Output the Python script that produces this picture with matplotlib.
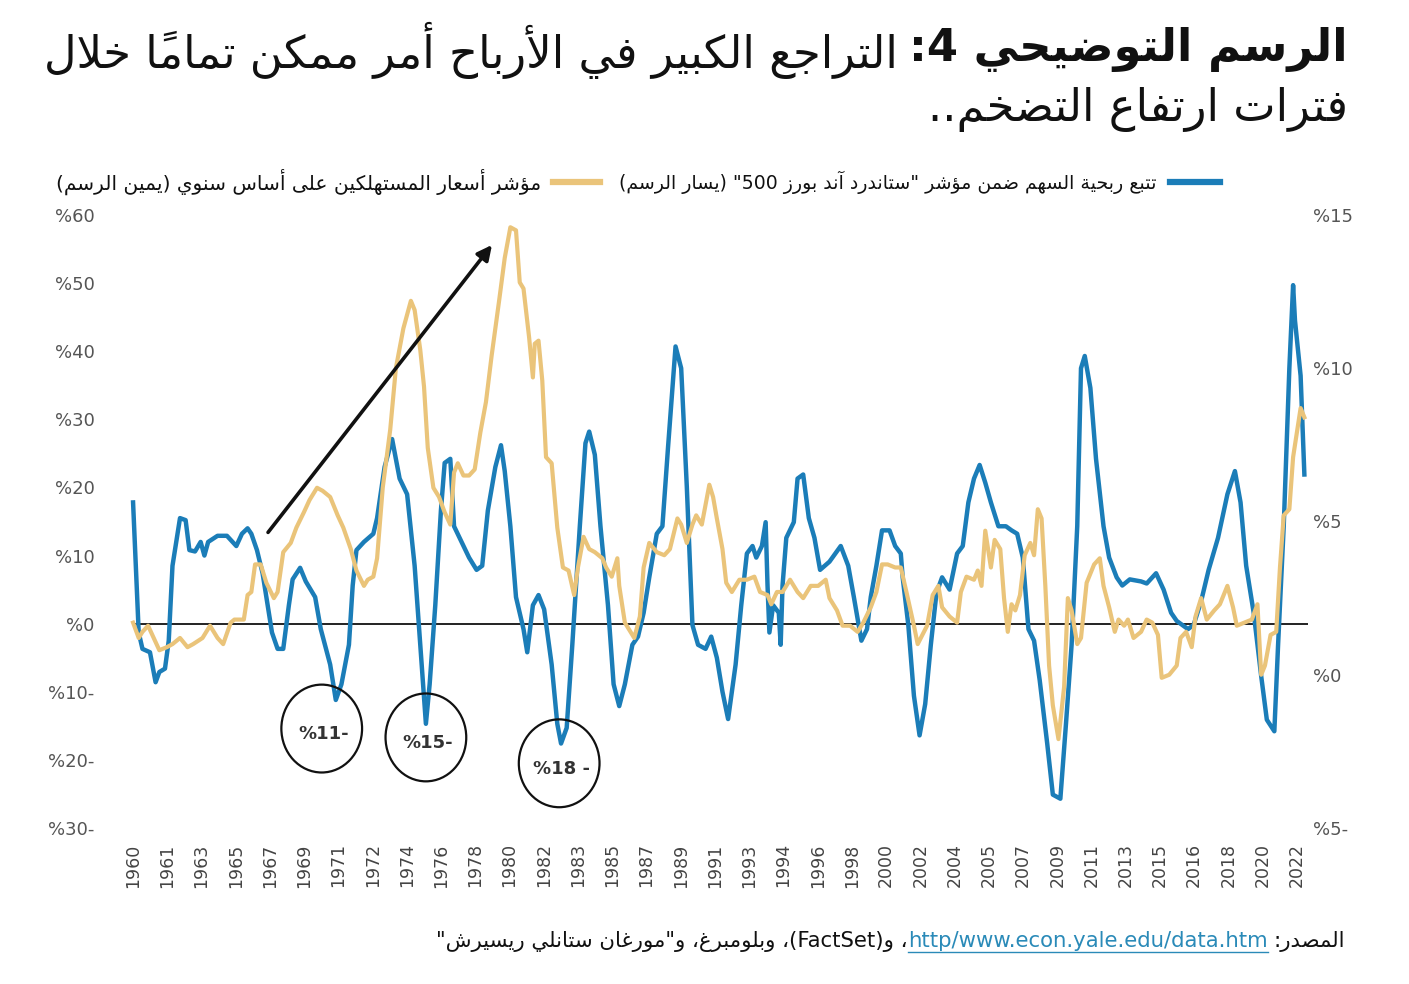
import re
import matplotlib
matplotlib.use("Agg")
import matplotlib.pyplot as plt
from matplotlib.patches import Ellipse
from matplotlib.lines import Line2D

# -----------------------------
# DATA
# -----------------------------
eps_years = [
    1960.0, 1960.3, 1960.5, 1960.9, 1961.2, 1961.4, 1961.7, 1961.9, 1962.1, 1962.5,
    1962.8, 1963.0, 1963.3, 1963.6, 1963.8, 1964.0, 1964.5, 1965.0, 1965.5, 1965.8,
    1966.1, 1966.3, 1966.6, 1966.9, 1967.1, 1967.4, 1967.7, 1968.0, 1968.3, 1968.5,
    1968.9, 1969.2, 1969.7, 1970.0, 1970.5, 1970.8, 1971.1, 1971.5, 1971.7, 1971.9,
    1972.3, 1972.8, 1973.0, 1973.4, 1973.8, 1974.2, 1974.6, 1975.0, 1975.3, 1975.6,
    1975.8, 1976.1, 1976.4, 1976.6, 1976.9, 1977.1, 1977.5, 1977.9, 1978.3, 1978.6,
    1978.9, 1979.3, 1979.6, 1979.8, 1980.1, 1980.4, 1980.8, 1981.0, 1981.3, 1981.6,
    1981.9, 1982.3, 1982.6, 1982.8, 1983.1, 1983.4, 1983.8, 1984.1, 1984.3, 1984.6,
    1984.9, 1985.3, 1985.6, 1985.9, 1986.2, 1986.6, 1986.9, 1987.2, 1987.5, 1987.9,
    1988.2, 1988.5, 1988.9, 1989.2, 1989.5, 1989.8, 1990.1, 1990.5, 1990.8, 1991.1,
    1991.4, 1991.7, 1992.1, 1992.4, 1992.7, 1993.0, 1993.2, 1993.5, 1993.7, 1993.8,
    1993.9, 1994.1, 1994.4, 1994.5, 1994.6, 1994.8, 1995.2, 1995.4, 1995.7, 1996.0,
    1996.3, 1996.6, 1997.1, 1997.7, 1998.1, 1998.4, 1998.8, 1999.1, 1999.3, 1999.6,
    1999.9, 2000.3, 2000.6, 2000.9, 2001.0, 2001.3, 2001.6, 2001.9, 2002.2, 2002.5,
    2002.8, 2003.1, 2003.5, 2003.9, 2004.2, 2004.5, 2004.8, 2005.1, 2005.4, 2005.7,
    2006.1, 2006.5, 2006.8, 2007.1, 2007.4, 2007.7, 2008.0, 2008.3, 2008.7, 2009.0,
    2009.4, 2009.7, 2010.0, 2010.3, 2010.5, 2010.7, 2011.0, 2011.3, 2011.7, 2012.0,
    2012.4, 2012.7, 2013.1, 2013.7, 2014.0, 2014.5, 2014.9, 2015.3, 2015.6, 2016.2,
    2016.5, 2016.9, 2017.3, 2017.8, 2018.3, 2018.7, 2019.0, 2019.3, 2019.7, 2020.1,
    2020.4, 2020.8, 2021.0, 2021.3, 2021.6, 2021.8, 2021.9, 2022.2, 2022.4,
]
eps_growth = [
    17.8, -1.3, -3.7, -4.2, -8.6, -7.1, -6.6, -2.5, 8.5, 15.5,
    15.2, 10.8, 10.6, 12.0, 10.0, 12.0, 12.9, 12.9, 11.4, 13.2,
    14.0, 13.2, 10.8, 7.4, 3.9, -1.3, -3.7, -3.7, 2.7, 6.5,
    8.2, 6.2, 3.9, -0.8, -6.0, -11.2, -8.9, -3.1, 5.6, 10.8,
    12.0, 13.2, 15.5, 23.0, 27.1, 21.3, 19.0, 8.5, -3.1, -14.7,
    -8.9, 2.7, 16.6, 23.6, 24.2, 14.3, 12.0, 9.7, 7.9, 8.5,
    16.6, 23.0, 26.2, 22.4, 14.3, 3.9, -0.8, -4.2, 2.7, 4.2,
    2.1, -6.0, -14.7, -17.6, -15.3, -3.1, 14.3, 26.5, 28.2, 24.8,
    14.3, 2.7, -8.9, -12.1, -8.9, -3.1, -1.9, 1.6, 6.8, 13.2,
    14.3, 25.9, 40.7, 37.5, 20.1, -0.2, -3.1, -3.7, -1.9, -5.0,
    -10.0, -14.0, -6.0, 2.7, 10.3, 11.4, 9.7, 11.4, 14.9, 5.6,
    -1.3, 2.7, 1.6, -3.1, 5.6, 12.6, 14.9, 21.3, 21.9, 15.5,
    12.6, 7.9, 9.1, 11.4, 8.5, 3.9, -2.5, -0.8, 3.9, 8.5,
    13.7, 13.7, 11.4, 10.3, 6.8, -0.2, -10.6, -16.4, -11.8, -3.1,
    4.5, 6.8, 5.0, 10.3, 11.4, 17.8, 21.3, 23.3, 20.7, 17.8,
    14.3, 14.3, 13.7, 13.2, 9.7, -0.8, -2.5, -8.3, -17.6, -25.1,
    -25.7, -14.7, -3.1, 14.3, 37.5, 39.3, 34.6, 24.2, 14.3, 9.7,
    6.8, 5.6, 6.5, 6.2, 5.9, 7.4, 5.0, 1.6, 0.4, -0.8,
    -0.2, 3.3, 7.9, 12.6, 19.0, 22.4, 17.8, 8.5, 1.6, -7.7,
    -14.1, -15.8, -3.1, 14.3, 37.5, 49.7, 44.5, 36.4, 21.9,
]

cpi_years = [
    1960.0, 1960.3, 1960.5, 1960.8, 1961.1, 1961.4, 1961.8, 1962.1, 1962.5, 1962.9,
    1963.2, 1963.7, 1964.1, 1964.5, 1964.8, 1965.2, 1965.4, 1965.9, 1966.1, 1966.3,
    1966.5, 1966.8, 1967.1, 1967.5, 1967.7, 1968.0, 1968.4, 1968.7, 1969.1, 1969.4,
    1969.8, 1970.1, 1970.5, 1970.9, 1971.2, 1971.6, 1971.9, 1972.3, 1972.5, 1972.8,
    1973.0, 1973.3, 1973.7, 1974.0, 1974.4, 1974.8, 1975.0, 1975.3, 1975.5, 1975.7,
    1976.0, 1976.3, 1976.6, 1976.9, 1977.1, 1977.3, 1977.6, 1977.9, 1978.2, 1978.5,
    1978.8, 1979.1, 1979.5, 1979.8, 1980.1, 1980.4, 1980.6, 1980.8, 1981.1, 1981.3,
    1981.4, 1981.6, 1981.8, 1982.0, 1982.3, 1982.6, 1982.9, 1983.2, 1983.5, 1983.7,
    1984.0, 1984.3, 1984.6, 1985.0, 1985.2, 1985.5, 1985.8, 1985.9, 1986.2, 1986.5,
    1986.7, 1987.0, 1987.2, 1987.5, 1987.9, 1988.3, 1988.6, 1989.0, 1989.2, 1989.5,
    1989.8, 1990.0, 1990.3, 1990.7, 1990.9, 1991.1, 1991.4, 1991.6, 1991.9, 1992.3,
    1992.7, 1993.1, 1993.4, 1993.8, 1994.0, 1994.3, 1994.6, 1995.0, 1995.4, 1995.7,
    1996.1, 1996.5, 1996.9, 1997.1, 1997.5, 1997.8, 1998.2, 1998.6, 1998.9, 1999.3,
    1999.6, 1999.9, 2000.2, 2000.6, 2000.9, 2001.2, 2001.6, 2001.8, 2002.3, 2002.6,
    2002.9, 2003.1, 2003.5, 2003.9, 2004.1, 2004.4, 2004.8, 2005.0, 2005.2, 2005.4,
    2005.7, 2005.9, 2006.2, 2006.4, 2006.6, 2006.8, 2007.0, 2007.25, 2007.5, 2007.8,
    2008.0, 2008.2, 2008.4, 2008.6, 2008.8, 2009.0, 2009.3, 2009.6, 2009.8, 2010.0,
    2010.3, 2010.5, 2010.8, 2011.2, 2011.5, 2011.7, 2012.0, 2012.3, 2012.5, 2012.8,
    2013.0, 2013.3, 2013.7, 2014.0, 2014.3, 2014.6, 2014.8, 2015.2, 2015.6, 2015.8,
    2016.1, 2016.4, 2016.6, 2016.9, 2017.2, 2017.6, 2017.9, 2018.3, 2018.6, 2018.8,
    2019.2, 2019.6, 2019.9, 2020.1, 2020.3, 2020.6, 2020.9, 2021.1, 2021.3, 2021.6,
    2021.8, 2022.2, 2022.4,
]
cpi_yoy = [
    1.7, 1.2, 1.4, 1.6, 1.2, 0.8, 0.9, 1.0, 1.2, 0.9,
    1.0, 1.2, 1.6, 1.2, 1.0, 1.7, 1.8, 1.8, 2.6, 2.7,
    3.6, 3.6, 3.0, 2.5, 2.7, 4.0, 4.3, 4.8, 5.3, 5.7,
    6.1, 6.0, 5.8, 5.2, 4.8, 4.1, 3.4, 2.9, 3.1, 3.2,
    3.8, 6.1, 8.0, 10.0, 11.3, 12.2, 11.9, 10.6, 9.4, 7.4,
    6.1, 5.8, 5.3, 4.9, 6.6, 6.9, 6.5, 6.5, 6.7, 7.9,
    8.9, 10.4, 12.2, 13.6, 14.6, 14.5, 12.8, 12.6, 11.0, 9.7,
    10.8, 10.9, 9.6, 7.1, 6.9, 4.8, 3.5, 3.4, 2.6, 3.5,
    4.5, 4.1, 4.0, 3.8, 3.5, 3.2, 3.8, 2.9, 1.7, 1.4,
    1.2, 1.9, 3.5, 4.3, 4.0, 3.9, 4.1, 5.1, 4.9, 4.3,
    4.9, 5.2, 4.9, 6.2, 5.8, 5.1, 4.1, 3.0, 2.7, 3.1,
    3.1, 3.2, 2.7, 2.6, 2.3, 2.7, 2.7, 3.1, 2.7, 2.5,
    2.9, 2.9, 3.1, 2.5, 2.1, 1.6, 1.6, 1.4, 1.7, 2.2,
    2.7, 3.6, 3.6, 3.5, 3.5, 2.7, 1.6, 1.0, 1.6, 2.6,
    2.9, 2.2, 1.9, 1.7, 2.7, 3.2, 3.1, 3.4, 2.9, 4.7,
    3.5, 4.4, 4.1, 2.5, 1.4, 2.3, 2.1, 2.6, 3.9, 4.3,
    3.9, 5.4, 5.1, 2.9, 0.3, -1.0, -2.1, -0.4, 2.5, 2.1,
    1.0, 1.2, 3.0, 3.6, 3.8, 2.9, 2.2, 1.4, 1.8, 1.6,
    1.8, 1.2, 1.4, 1.8, 1.7, 1.3, -0.1, 0.0, 0.3, 1.2,
    1.4, 0.9, 1.9, 2.5, 1.8, 2.1, 2.3, 2.9, 2.2, 1.6,
    1.7, 1.8, 2.3, 0.0, 0.3, 1.3, 1.4, 3.5, 5.2, 5.4,
    7.1, 8.7, 8.4,
]

year_labels = [
    "1960", "1961", "1963", "1965", "1967", "1969", "1971", "1972", "1974",
    "1976", "1978", "1980", "1982", "1983", "1985", "1987", "1989", "1991",
    "1993", "1994", "1996", "1998", "2000", "2002", "2004", "2005", "2007",
    "2009", "2011", "2013", "2015", "2016", "2018", "2020", "2022",
]
left_ticks = [60, 50, 40, 30, 20, 10, 0, -10, -20, -30]
right_ticks = [15, 10, 5, 0, -5]

# troughs marked with circles: (year, value, label)
troughs = [(1970.05, -15.4, "%11-"), (1975.6, -16.7, "%15-"), (1982.7, -20.5, "%18 -")]

title_bold = "الرسم التوضيحي 4:"
title_rest = "التراجع الكبير في الأرباح أمر ممكن تماماً خلال"
title_line2 = "فترات ارتفاع التضخم.."
legend_eps = 'تتبع ربحية السهم ضمن مؤشر "ستاندرد آند بورز 500" (يسار الرسم)'
legend_cpi = "مؤشر أسعار المستهلكين على أساس سنوي (يمين الرسم)"
source_head = "المصدر:"
source_link = "http/www.econ.yale.edu/data.htm"
source_rest = '، و(FactSet)، وبلومبرغ، و"مورغان ستانلي ريسيرش"'

BLUE = "#1b7db8"
YELLOW = "#eac47a"

# -----------------------------
# ARABIC SHAPING (matplotlib has no text shaping)
# -----------------------------
AR_LETTERS = "ءآأؤإئابةتثجحخدذرزسشصضطظعغفقكلمنهوىي"
AR_NFORMS = [1, 2, 2, 2, 2, 4, 2, 4, 2, 4, 4, 4, 4, 4, 2, 2, 2, 2,
             4, 4, 4, 4, 4, 4, 4, 4, 4, 4, 4, 4, 4, 4, 4, 2, 2, 4]
AR_FORMS = {}
_code = 0xFE80
for _ch, _n in zip(AR_LETTERS, AR_NFORMS):
    AR_FORMS[_ch] = (_code, _n)
    _code += _n
LAM_ALEF = {"آ": 0xFEF5, "أ": 0xFEF7, "إ": 0xFEF9, "ا": 0xFEFB}
MIRROR = {"(": ")", ")": "("}
LTR_RUN = re.compile(r"[A-Za-z0-9]+(?:[./:][A-Za-z0-9]+)*")


def is_mark(c):
    return "\u064B" <= c <= "\u0652"


def shape_arabic(text):
    n = len(text)

    def neighbour(j, step):
        j += step
        while 0 <= j < n and is_mark(text[j]):
            j += step
        return text[j] if 0 <= j < n else ""

    out = []
    i = 0
    while i < n:
        c = text[i]
        if c not in AR_FORMS:
            out.append(c)
            i += 1
            continue
        prev = neighbour(i, -1)
        nxt = neighbour(i, 1)
        joins_prev = prev in AR_FORMS and AR_FORMS[prev][1] == 4 and AR_FORMS[c][1] > 1
        if c == "ل" and i + 1 < n and text[i + 1] in LAM_ALEF:
            out.append(chr(LAM_ALEF[text[i + 1]] + (1 if joins_prev else 0)))
            i += 2
            continue
        joins_next = AR_FORMS[c][1] == 4 and nxt in AR_FORMS and AR_FORMS[nxt][1] > 1
        if joins_prev and joins_next:
            form = 3
        elif joins_prev:
            form = 1
        elif joins_next:
            form = 2
        else:
            form = 0
        out.append(chr(AR_FORMS[c][0] + form))
        i += 1
    return "".join(out)


def rtl_reverse(s):
    clusters = []
    for ch in s:
        if is_mark(ch) and clusters:
            clusters[-1] += ch
        else:
            clusters.append(MIRROR.get(ch, ch))
    return "".join(reversed(clusters))


def ar(text):
    shaped = shape_arabic(text)
    pieces = []
    pos = 0
    for m in LTR_RUN.finditer(shaped):
        if m.start() > pos:
            pieces.append(rtl_reverse(shaped[pos:m.start()]))
        pieces.append(m.group())
        pos = m.end()
    if pos < len(shaped):
        pieces.append(rtl_reverse(shaped[pos:]))
    return "".join(reversed(pieces))


# -----------------------------
# FIGURE
# -----------------------------
plt.rcParams["font.family"] = ["DejaVu Sans"]
W, H = 1409, 984
fig = plt.figure(figsize=(W / 100, H / 100), dpi=100)
fig.patch.set_facecolor("white")


def fx(px):
    return px / W


def fy(py):
    return 1 - py / H


ax = fig.add_axes([fx(125), fy(828), (1310 - 125) / W, (828 - 215) / H])
ax.set_xlim(1959.57, 2022.7)
ax.set_ylim(-30, 60)
ax2 = ax.twinx()
ax2.set_ylim(-5, 15)

for a in (ax, ax2):
    for s in a.spines.values():
        s.set_visible(False)
    a.patch.set_visible(False)

ax.hlines(0, eps_years[0], eps_years[-1] + 0.2, color="#222222", lw=1.4, zorder=1)
ax.plot(eps_years, eps_growth, color=BLUE, lw=3.2, solid_joinstyle="round", zorder=2)
ax2.plot(cpi_years, cpi_yoy, color=YELLOW, lw=3.0, solid_joinstyle="round", zorder=2)

# x ticks: evenly spaced labels
step = (eps_years[-1] - 0.4 - eps_years[0]) / (len(year_labels) - 1)
xt = [eps_years[0] + i * step for i in range(len(year_labels))]
ax.set_xticks(xt)
ax.set_xticklabels(year_labels, rotation=90, fontsize=12.5, color="#444444")
ax.tick_params(axis="x", length=0, pad=11)

ax.set_yticks(left_ticks)
ax.set_yticklabels([f"%{abs(v)}" + ("-" if v < 0 else "") for v in left_ticks],
                   fontsize=13, color="#555555")
ax.tick_params(axis="y", length=0, pad=22)
ax2.set_yticks(right_ticks)
ax2.set_yticklabels([f"%{abs(v)}" + ("-" if v < 0 else "") for v in right_ticks],
                    fontsize=13, color="#555555")
ax2.tick_params(axis="y", length=0, pad=2)

# annotations
for yr, val, lab in troughs:
    ax2.add_patch(Ellipse((yr, val), 4.3, 12.9, transform=ax.transData,
                          fill=False, ec="#111111", lw=1.6, zorder=5))
    ax2.text(yr + 0.1, val - 0.8, lab, transform=ax.transData, ha="center", va="center",
             fontsize=13, fontweight="bold", color="#333333", zorder=6)

ax2.annotate("", xy=(1979.12, 55.6), xytext=(1967.19, 13.4),
             xycoords=ax.transData, textcoords=ax.transData,
             arrowprops=dict(arrowstyle="-|>", lw=2.6, color="#111111",
                             mutation_scale=22, shrinkA=0, shrinkB=0))

# legend (drawn by hand, right to left)
fig.add_artist(Line2D([fx(1170), fx(1220)], [fy(182), fy(182)], color=BLUE, lw=4.5))
fig.text(fx(1156), fy(182), ar(legend_eps), ha="right", va="center", fontsize=13.6, color="#111111")
fig.add_artist(Line2D([fx(553), fx(600)], [fy(182), fy(182)], color=YELLOW, lw=4.5))
fig.text(fx(541), fy(182), ar(legend_cpi), ha="right", va="center", fontsize=14.5, color="#111111")

fig.canvas.draw()
renderer = fig.canvas.get_renderer()

# title
tb = fig.text(fx(1348), fy(50), ar(title_bold), ha="right", va="center",
              fontsize=32.3, fontweight="bold", color="#111111")
wb = tb.get_window_extent(renderer).width
fig.text(fx(1348 - wb - 12), fy(50), ar(title_rest), ha="right", va="center",
         fontsize=32.3, color="#111111")
fig.text(fx(1348), fy(110), ar(title_line2), ha="right", va="center",
         fontsize=32.3, color="#111111")

# source line
x = 1345
t = fig.text(fx(x), fy(941), ar(source_head), ha="right", va="center", fontsize=15.3, color="#111111")
x -= t.get_window_extent(renderer).width + 6
t = fig.text(fx(x), fy(941), source_link, ha="right", va="center", fontsize=15.3, color="#2a8ab8")
bb = t.get_window_extent(renderer)
fig.add_artist(Line2D([fx(bb.x0), fx(bb.x1)], [fy(952), fy(952)], color="#2a8ab8", lw=1))
x -= bb.width
fig.text(fx(x), fy(941), ar(source_rest), ha="right", va="center", fontsize=15.3, color="#111111")

fig.savefig("out.png", dpi=100, facecolor="white")
